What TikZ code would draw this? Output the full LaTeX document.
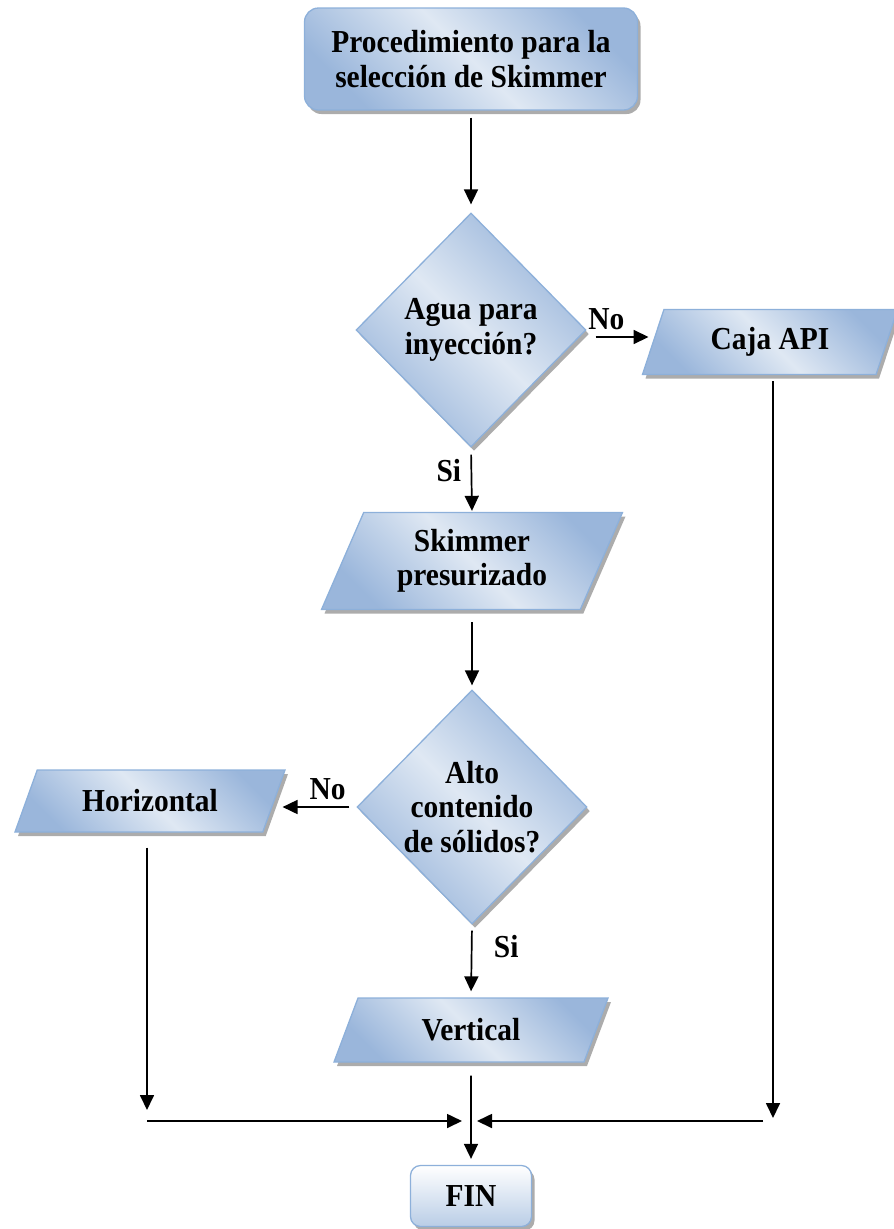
\documentclass[tikz,border=0pt]{standalone}
\usepackage{fontspec}
\setmainfont{Liberation Serif}[FakeStretch=0.92]
\usetikzlibrary{arrows.meta,positioning,shapes.geometric,shadows,calc}

\definecolor{boxedge}{HTML}{8DB0DA}
\definecolor{boxdark}{HTML}{9AB6DB}
\definecolor{boxlight}{HTML}{DFE8F3}
\definecolor{finlow}{HTML}{B9CDE6}

\tikzset{
  flow/.style={draw=boxedge, line width=1.3pt, align=center, inner sep=2pt,
    font=\fontsize{32}{34.5}\selectfont\bfseries,
    shading=axis, top color=boxdark, bottom color=boxdark, middle color=boxlight,
    shading angle=-45,
    drop shadow={shadow xshift=3pt, shadow yshift=-4pt, fill=gray!65, opacity=1}},
  decision/.style={flow, diamond, aspect=1, inner sep=0pt,
    minimum width=230pt, minimum height=234pt},
  para/.style={flow, trapezium, trapezium stretches body},
  lbl/.style={font=\fontsize{32}{34.5}\selectfont\bfseries},
  arr/.style={-{Triangle[length=15pt,width=14pt]}, line width=1.7pt}
}

\begin{document}
\begin{tikzpicture}[x=1pt, y=-1pt]
  \useasboundingbox (0,0) rectangle (894,1229);

  % Main column
  \node[flow, rounded corners=14pt, minimum width=333pt, minimum height=102pt]
    (start) at (471,59) {Procedimiento para la\\selección de Skimmer};
  \node[decision] (agua) at (471,330) {Agua para\\inyección?};
  \node[para, trapezium left angle=58, trapezium right angle=122,
    minimum width=301pt, minimum height=97pt]
    (presur) at (472,561) {Skimmer\\presurizado};
  \node[decision] (solidos) at (472,807) {Alto\\contenido\\de sólidos?};
  \node[para, trapezium left angle=48, trapezium right angle=132,
    minimum width=274pt, minimum height=64pt]
    (vertical) at (471,1030) {Vertical};
  \node[flow, rounded corners=10pt, minimum width=121pt, minimum height=61pt,
    top color=white, bottom color=finlow, middle color=white!50!finlow, shading angle=0]
    (fin) at (471,1196) {FIN};

  % Side branches
  \node[para, trapezium left angle=57, trapezium right angle=123,
    minimum width=255pt, minimum height=65pt]
    (caja) at (770,342) {Caja API};
  \node[para, trapezium left angle=50, trapezium right angle=130,
    minimum width=270pt, minimum height=62pt]
    (horiz) at (150,801) {Horizontal};

  % Meeting point above FIN
  \coordinate (jl) at (147,1121);
  \coordinate (jr) at (773,1121);
  \coordinate (jc) at (471,1121);

  % Arrows
  \draw[arr, shorten <=7pt, shorten >=8pt] (start.south) -- (agua.north);
  \draw[arr, shorten <=9pt, shorten >=4pt] ([yshift=-7pt]agua.east) -- ([yshift=-7pt]agua.east -| caja.west)
    node[lbl, pos=0.3, above=3pt] {No};
  \draw[arr, shorten <=7pt, shorten >=1pt] (agua.south) -- (presur.north)
    node[lbl, pos=0.35, left=6pt] {Si};
  \draw[arr, shorten <=12pt, shorten >=4pt] (presur.south) -- (solidos.north);
  \draw[arr, shorten <=7pt, shorten >=8pt] (solidos.west) -- (solidos.west -| horiz.east)
    node[lbl, pos=0.35, above=3pt] {No};
  \draw[arr, shorten <=6pt, shorten >=6pt] (solidos.south) -- (vertical.north)
    node[lbl, pos=0.3, right=18pt] {Si};
  \draw[arr, shorten <=13pt, shorten >=6pt] (vertical.south) -- (fin.north);

  % Return lines into the main column
  \draw[arr, shorten <=15pt, shorten >=11pt] (jl |- horiz.south) -- (jl);
  \draw[arr, shorten <=6pt, shorten >=3pt] (jr |- caja.south) -- (jr);
  \draw[arr, shorten >=9pt] (jl) -- (jc);
  \draw[arr, shorten <=10pt, shorten >=6pt] (jr) -- (jc);
\end{tikzpicture}
\end{document}
